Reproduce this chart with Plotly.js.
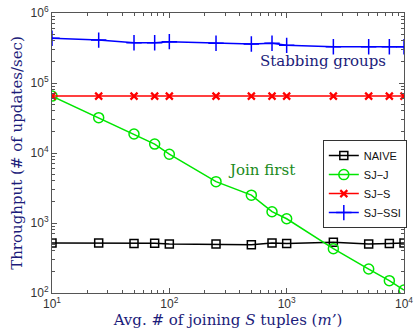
<!DOCTYPE html>
<html><head><meta charset="utf-8">
<script src="https://cdn.plot.ly/plotly-3.0.1.min.js"></script>
<style>html,body{margin:0;padding:0;background:#fff}#chart{width:414px;height:333px}</style>
</head><body><div id="chart"></div>
<script>
const xVals = [10, 25, 50, 75, 100, 250, 500, 750, 1000, 2500, 5000, 7500, 10000];
const naive = [520, 520, 510, 515, 500, 500, 490, 520, 510, 530, 500, 510, 520];
const sjJ = [65000, 32000, 18700, 13400, 9600, 3900, 2500, 1450, 1150, 430, 220, 150, 110];
const sjS = [65000, 65000, 65000, 65000, 65000, 65000, 65000, 65000, 65000, 65000, 65000, 65000, 65000];
const sjSSI = [435000, 410000, 375000, 375000, 390000, 370000, 360000, 370000, 345000, 330000, 330000, 330000, 330000];
const seriesNames = ['NAIVE', 'SJ\u2212J', 'SJ\u2212S', 'SJ\u2212SSI'];
const xTickVals = [10, 100, 1000, 10000];
const xTickText = ['10<sup>1</sup>', '10<sup>2</sup>', '10<sup>3</sup>', '10<sup>4</sup>'];
const yTickVals = [100, 1000, 10000, 100000, 1000000];
const yTickText = ['10<sup>2</sup>', '10<sup>3</sup>', '10<sup>4</sup>', '10<sup>5</sup>', '10<sup>6</sup>'];

function minorTicks(majors) {
  const out = [];
  majors.slice(0, -1).forEach(m => { for (let k = 2; k <= 9; k++) out.push(m * k); });
  return out;
}

const titleColor = '#1c1c7a';
const traces = [
  {x: xVals, y: naive, name: seriesNames[0], mode: 'lines+markers',
   line: {color: '#000000', width: 1.5},
   marker: {symbol: 'square-open', size: 8, color: '#000000', line: {width: 1.5}}},
  {x: xVals, y: sjJ, name: seriesNames[1], mode: 'lines+markers',
   line: {color: '#00e600', width: 1.5},
   marker: {symbol: 'circle-open', size: 10, color: '#00e600', line: {width: 1.5}}},
  {x: xVals, y: sjS, name: seriesNames[2], mode: 'lines+markers',
   line: {color: '#ff0000', width: 1.5},
   marker: {symbol: 'x-thin-open', size: 7, color: '#ff0000', line: {width: 2.2}}},
  {x: xVals, y: sjSSI, name: seriesNames[3], mode: 'lines+markers',
   line: {color: '#0000ff', width: 1.5},
   marker: {symbol: 'cross-thin-open', size: 11, color: '#0000ff', line: {width: 1.5}}}
];

const axisCommon = {
  type: 'log', tickmode: 'array',
  showline: true, linecolor: '#555', linewidth: 1, mirror: 'allticks',
  ticks: 'inside', ticklen: 5, tickcolor: '#555', showgrid: false, zeroline: false,
  tickfont: {family: 'Liberation Sans, Arial, sans-serif', size: 12, color: '#333'}
};

const layout = {
  width: 414, height: 333,
  margin: {l: 52, r: 7, t: 13, b: 40},
  paper_bgcolor: '#fff', plot_bgcolor: '#fff',
  showlegend: true,
  legend: {x: 1.008, y: 0.546, xanchor: 'right', yanchor: 'top',
    bgcolor: '#fff', bordercolor: '#333', borderwidth: 1,
    font: {family: 'Liberation Sans, Arial, sans-serif', size: 11, color: '#111'},
    tracegroupgap: 0, itemwidth: 30},
  xaxis: Object.assign({}, axisCommon, {range: [1, 4],
    tickvals: xTickVals, ticktext: xTickText,
    minor: {tickmode: 'array', tickvals: minorTicks(xTickVals), ticks: 'inside', ticklen: 3, tickcolor: '#555', showgrid: false},
    title: {text: 'Avg. # of joining <i>S</i> tuples (<i>m\u2019</i>)', standoff: 2,
      font: {family: 'DejaVu Serif, serif', size: 15, color: titleColor}}}),
  yaxis: Object.assign({}, axisCommon, {range: [2, 6],
    tickvals: yTickVals, ticktext: yTickText,
    minor: {tickmode: 'array', tickvals: minorTicks(yTickVals), ticks: 'inside', ticklen: 3, tickcolor: '#555', showgrid: false},
    title: {text: 'Throughput (# of updates/sec)', standoff: 4,
      font: {family: 'DejaVu Serif, serif', size: 15, color: titleColor}}}),
  annotations: [
    {text: 'Stabbing groups', xref: 'paper', yref: 'paper', x: 0.585, y: 0.83,
     xanchor: 'left', yanchor: 'middle', showarrow: false,
     font: {family: 'DejaVu Serif, serif', size: 15, color: titleColor}},
    {text: 'Join first', xref: 'paper', yref: 'paper', x: 0.495, y: 0.44,
     xanchor: 'left', yanchor: 'middle', showarrow: false,
     font: {family: 'DejaVu Serif, serif', size: 15, color: '#1a8a1a'}}
  ]
};

Plotly.newPlot('chart', traces, layout, {displayModeBar: false, staticPlot: true});
</script></body></html>
